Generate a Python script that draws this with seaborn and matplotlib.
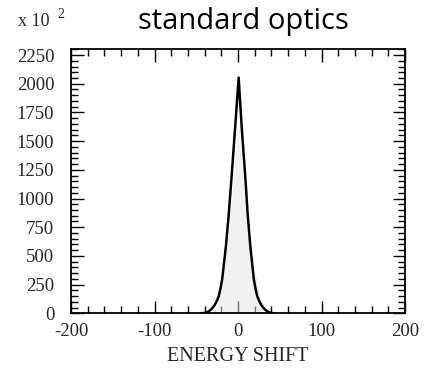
import matplotlib
matplotlib.use("Agg")
import matplotlib.pyplot as plt
from matplotlib.ticker import MultipleLocator
import seaborn as sns
import pandas as pd

# Fitted line profile (counts in units of 10^2)
shift = [-44, -40, -38, -36, -34, -32, -30, -28, -25.5, -23, -21, -19, -14.5, -11, -8, -3.5, 0.8,
         4.5, 9, 11.5, 14.8, 19, 21, 23, 25.5, 28, 30, 32, 34, 36, 38, 40, 44]
counts = [0, 3, 7, 13, 22, 35, 52, 72, 105, 150, 215, 294, 582, 871, 1159, 1612, 2053,
          1612, 1159, 871, 582, 294, 215, 150, 105, 72, 52, 35, 22, 13, 7, 3, 0]

# Measured distribution underneath the fit
hist_shift = [-30, -25, -20, -15, -10, -5, 0, 5, 10, 15, 20, 23, 26, 30]
hist_counts = [10, 60, 200, 470, 800, 1200, 1650, 1250, 820, 540, 330, 300, 120, 10]

xticks = [-200, -100, 0, 100, 200]
yticks = [0, 250, 500, 750, 1000, 1250, 1500, 1750, 2000, 2250]

sns.set_style("ticks")
plt.rcParams["font.family"] = ["Liberation Serif", "DejaVu Serif"]

fig = plt.figure(figsize=(4.25, 3.81), dpi=100)
ax = fig.add_axes([71 / 425, 1 - 313.3 / 381, (405 - 71) / 425, (313.3 - 49.3) / 381])

ax.fill_between(hist_shift, hist_counts, color="#e2e2e2", alpha=0.5, linewidth=0)
df = pd.DataFrame({"shift": shift, "counts": counts})
sns.lineplot(data=df, x="shift", y="counts", ax=ax, color="black", linewidth=1.8, sort=False)

ax.set_xlim(-200, 200)
ax.set_ylim(0, 2300)
ax.set_xticks(xticks)
ax.set_yticks(yticks)
ax.set_xticklabels([str(v) for v in xticks])
ax.set_yticklabels([str(v) for v in yticks])
ax.xaxis.set_minor_locator(MultipleLocator(20))
ax.yaxis.set_minor_locator(MultipleLocator(50))

ax.tick_params(which="both", direction="in", top=True, right=True, color="black", width=1.0)
ax.tick_params(which="major", length=9)
ax.tick_params(which="minor", length=5)
ax.tick_params(axis="x", which="major", labelsize=13.5, pad=7)
ax.tick_params(axis="y", which="major", labelsize=13.5, pad=12)
for side in ax.spines.values():
    side.set_visible(True)
    side.set_linewidth(1.3)
    side.set_color("black")

ax.set_xlabel("ENERGY SHIFT", fontsize=14.5, labelpad=5)
ax.set_ylabel("")

fig.text(18 / 425, 1 - 21 / 381, "x 10", fontsize=13, ha="left", va="center")
fig.text(57 / 425, 1 - 14 / 381, "2", fontsize=10, ha="left", va="center")
fig.text(243 / 425, 1 - 21 / 381, "standard optics", fontsize=21, color="black",
         family=["Open Sans", "DejaVu Sans"], ha="center", va="center")

fig.savefig("out.png", dpi=100)
